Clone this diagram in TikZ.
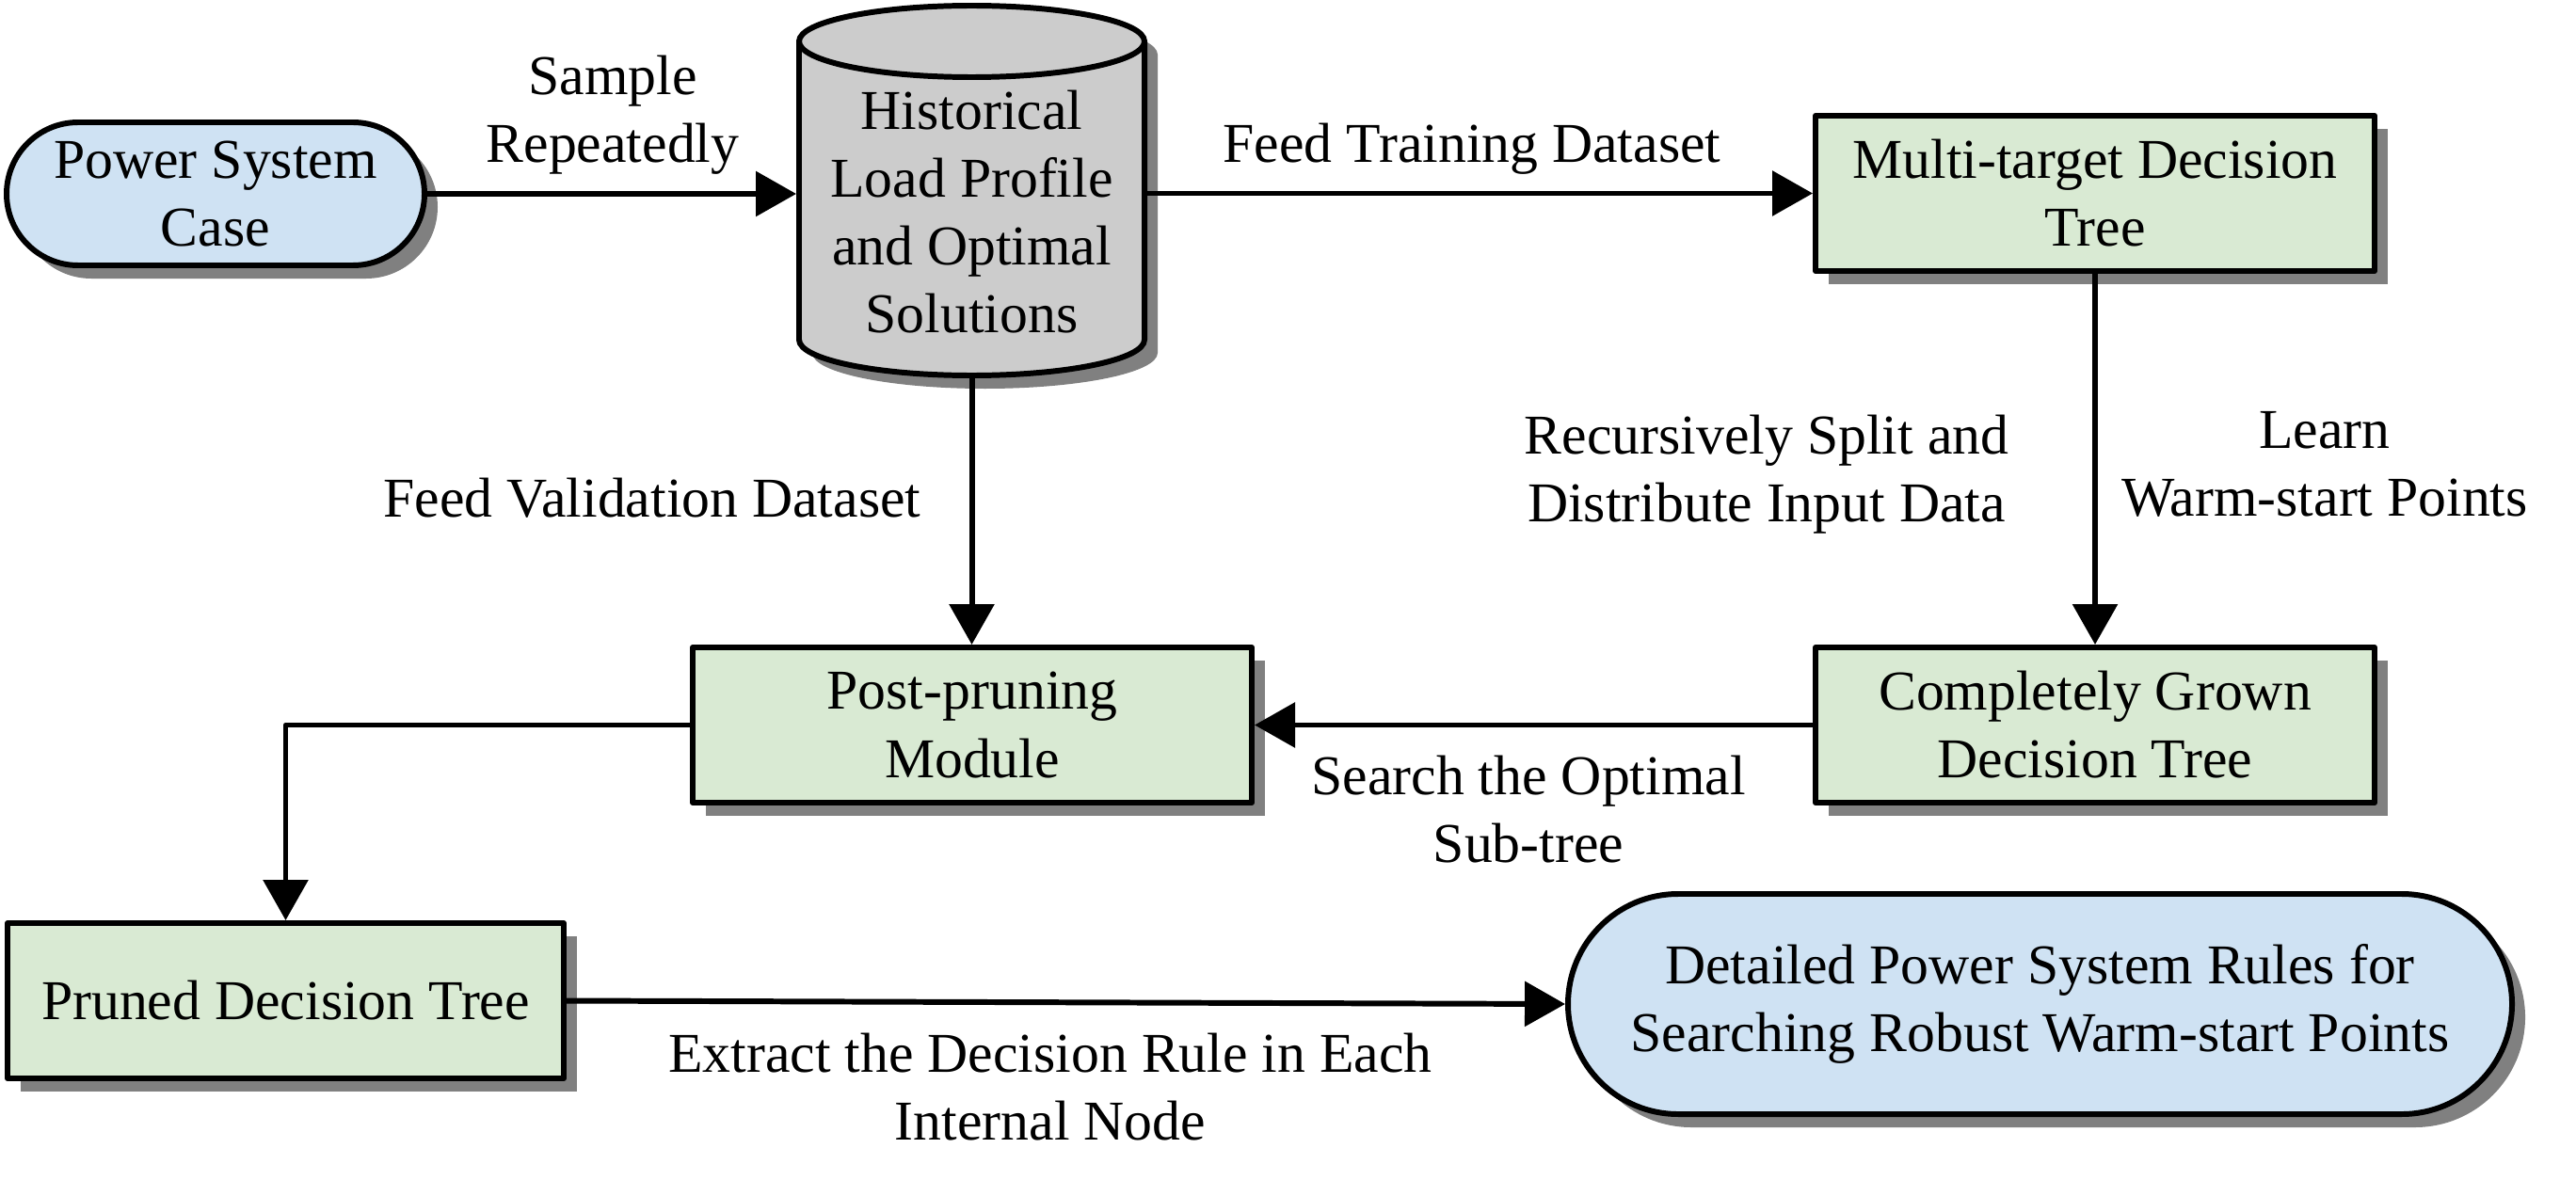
\documentclass[tikz,border=0pt]{standalone}
\usepackage{fontspec}
\setmainfont{Liberation Serif}
\usetikzlibrary{calc}
\usetikzlibrary{shapes.misc}
\usetikzlibrary{shadows}
\usetikzlibrary{arrows.meta}

\definecolor{termblue}{RGB}{207,226,243}
\definecolor{procgreen}{RGB}{217,234,211}
\definecolor{dbgray}{RGB}{204,204,204}
\definecolor{shadowgray}{RGB}{128,128,128}

\begin{document}
\begin{tikzpicture}[
	line cap=round,
	line join=round,
	line width=1.7pt,
	font=\fontsize{17}{20.5}\selectfont,
	boxshadow/.style={drop shadow={shadow xshift=0.14cm, shadow yshift=-0.14cm, fill=shadowgray, opacity=1}},
	proc/.style={draw, fill=procgreen, align=center, inner sep=0pt, minimum height=1.65cm, minimum width=5.94cm, boxshadow},
	term/.style={draw, fill=termblue, rounded rectangle, align=center, inner sep=0pt, boxshadow},
	lbl/.style={align=center, inner sep=0pt},
	arr/.style={-{Triangle[length=0.43cm, width=0.47cm]}}
	]
	\useasboundingbox (0,0) rectangle (27.37,-12.53);
	
	% Start and end terminals
	\node[term, minimum width=4.44cm, minimum height=1.52cm] (psc) at (2.29,-2.06) {Power System\\Case};
	\node[term, minimum width=10.03cm, minimum height=2.34cm] (drules) at (21.675,-10.67) {Detailed Power System Rules for\\Searching Robust Warm-start Points};
	
	% Process boxes
	\node[proc] (mtd) at (22.26,-2.055) {Multi-target Decision\\Tree};
	\node[proc] (cgdt) at (22.26,-7.705) {Completely Grown\\Decision Tree};
	\node[proc] (ppm) at (10.33,-7.705) {Post-pruning\\Module};
	\node[proc, minimum width=5.91cm] (pdt) at (3.035,-10.635) {Pruned Decision Tree};
	
	% Database cylinder
	\coordinate (hc) at (10.325,-2.25);
	\begin{scope}[shift={(hc)}]
		\def\rx{1.835}
		\def\ry{0.38}
		
		\fill[shadowgray, shift={(0.14,-0.14)}] (-\rx,1.81) -- (-\rx,-1.36)
			arc[start angle=180, end angle=360, x radius=\rx, y radius=\ry]
			-- (\rx,1.81) arc[start angle=0, end angle=180, x radius=\rx, y radius=\ry] -- cycle;
		\draw[fill=dbgray] (-\rx,1.81) -- (-\rx,-1.36)
			arc[start angle=180, end angle=360, x radius=\rx, y radius=\ry]
			-- (\rx,1.81) arc[start angle=0, end angle=180, x radius=\rx, y radius=\ry] -- cycle;
		\draw (-\rx,1.81) arc[start angle=180, end angle=360, x radius=\rx, y radius=\ry];
		
		\coordinate (histbot) at (0,-1.36-\ry);
	\end{scope}
	\node[lbl, minimum width=3.67cm] (hist) at (hc) {Historical\\Load Profile\\and Optimal\\Solutions};
	
	% Connectors
	\draw[arr] (psc.east) -- (psc.east -| hist.west);
	\draw[arr] (hist.east |- mtd.west) -- (mtd.west);
	\draw[arr] (histbot) -- (histbot |- ppm.north);
	\draw[arr] (mtd.south) -- (cgdt.north);
	\draw[arr] (cgdt.west) -- (ppm.east);
	\draw[arr] (ppm.west) -| (pdt.north);
	\draw[arr] (pdt.east) -- (drules.west);
	
	% Connector labels
	\node[lbl] (lsample) at (6.51,-1.225) {Sample\\Repeatedly};
	\node[lbl] (lfeedtrain) at (15.64,-1.58) {Feed Training Dataset};
	\node[lbl] (lfeedval) at (6.93,-5.29) {Feed Validation Dataset};
	\node[lbl] (lsplit) at (18.77,-5.04) {Recursively Split and\\Distribute Input Data};
	\node[lbl] (llearn) at (24.70,-4.93) {Learn\\Warm-start Points};
	\node[lbl] (lsearch) at (16.24,-8.60) {Search the Optimal\\Sub-tree};
	\node[lbl] (lextract) at (11.16,-11.55) {Extract the Decision Rule in Each\\Internal Node};
\end{tikzpicture}
\end{document}
